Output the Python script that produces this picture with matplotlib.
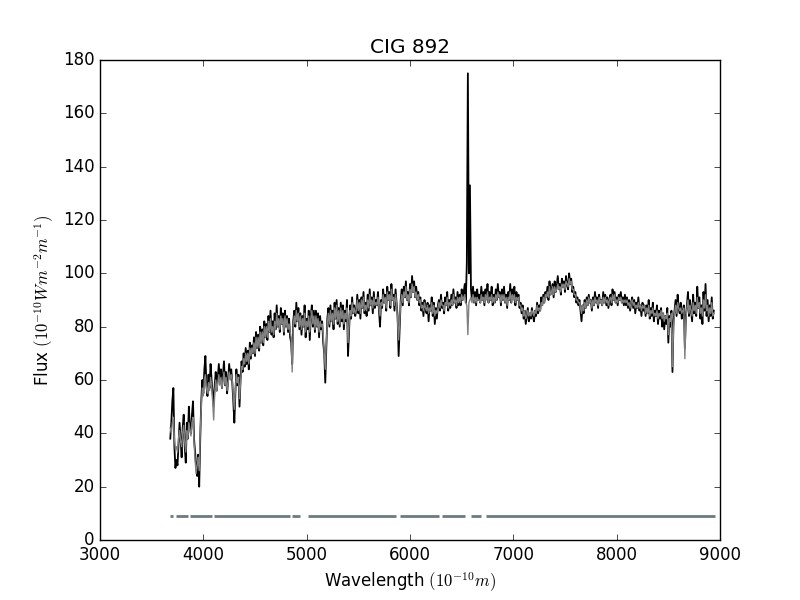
import numpy as np
import matplotlib
matplotlib.use("Agg")
import matplotlib.pyplot as plt

# wavelength grid of the spectrum (Angstrom), 10 A steps
wavelength = np.arange(3680, 8941, 10)

# observed flux (black), one row = 200 A
flux_obs = [
    38, 44, 52, 57, 35, 27, 30, 28, 36, 44, 38, 31, 42, 47, 35, 29, 44, 38, 50, 42,
    40, 47, 52, 38, 33, 28, 24, 32, 20, 38, 52, 60, 55, 64, 69, 58, 54, 62, 57, 66,
    60, 55, 50, 58, 63, 56, 61, 66, 59, 64, 57, 62, 67, 58, 63, 55, 60, 66, 61, 64,
    59, 52, 44, 55, 64, 58, 62, 50, 60, 67, 63, 70, 65, 72, 66, 71, 64, 74, 68, 73,
    70, 76, 69, 78, 72, 77, 71, 80, 74, 79, 73, 82, 76, 81, 75, 84, 78, 86, 77, 82,
    76, 85, 79, 88, 80, 84, 78, 87, 81, 85, 77, 86, 80, 84, 78, 83, 76, 74, 66, 82,
    86, 80, 89, 82, 87, 79, 85, 77, 84, 80, 88, 76, 83, 79, 86, 75, 84, 88, 80, 86,
    78, 86, 80, 85, 76, 84, 79, 82, 74, 70, 59, 72, 83, 87, 80, 88, 82, 86, 79, 89,
    83, 90, 81, 87, 80, 89, 82, 88, 79, 86, 82, 90, 69, 78, 88, 83, 91, 85, 88, 84,
    86, 92, 85, 90, 83, 91, 87, 93, 85, 89, 84, 92, 86, 94, 88, 91, 85, 93, 87, 90,
    88, 93, 86, 80, 90, 87, 94, 89, 92, 86, 95, 90, 93, 87, 96, 90, 92, 86, 94, 89,
    84, 69, 80, 90, 94, 88, 95, 91, 97, 90, 93, 88, 96, 91, 99, 93, 97, 91, 95, 90,
    93, 88, 91, 86, 89, 84, 90, 87, 85, 89, 82, 88, 86, 91, 84, 89, 81, 87, 83, 88,
    90, 86, 92, 87, 89, 85, 91, 88, 93, 86, 90, 87, 92, 88, 94, 89, 91, 87, 93, 88,
    92, 88, 94, 90, 93, 96, 89, 104, 175, 100, 133, 94, 90, 95, 89, 93, 88, 94, 90, 92,
    89, 95, 90, 93, 88, 94, 91, 96, 89, 93, 90, 95, 88, 92, 89, 94, 90, 96, 91, 93,
    88, 94, 90, 95, 89, 92, 87, 93, 90, 96, 89, 94, 91, 95, 88, 93, 90, 92, 87, 89,
    85, 88, 83, 86, 81, 84, 87, 82, 85, 83, 87, 84, 82, 86, 84, 89, 85, 88, 86, 91,
    88, 92, 89, 93, 91, 95, 90, 97, 92, 94, 96, 91, 97, 93, 95, 99, 94, 96, 92, 98,
    95, 97, 93, 99, 96, 94, 100, 96, 98, 93, 95, 91, 93, 89, 91, 88, 90, 86, 82, 88,
    85, 90, 87, 91, 88, 92, 89, 90, 86, 91, 88, 93, 89, 91, 87, 92, 89, 90, 88, 93,
    89, 92, 88, 91, 87, 90, 92, 88, 94, 90, 93, 89, 91, 88, 92, 90, 93, 89, 91, 88,
    92, 88, 91, 87, 90, 86, 89, 91, 87, 90, 85, 89, 87, 91, 86, 88, 84, 89, 86, 88,
    84, 88, 85, 90, 83, 87, 84, 89, 82, 86, 84, 88, 81, 86, 83, 87, 80, 85, 79, 84,
    81, 87, 74, 84, 80, 86, 63, 82, 86, 90, 84, 92, 87, 85, 89, 83, 86, 88, 72, 84,
    88, 93, 84, 90, 86, 82, 92, 85, 89, 84, 95, 87, 91, 83, 88, 81, 93, 86, 96, 84,
    90, 82, 88, 84, 91, 83, 86,
]

# synthetic fit (grey)
flux_fit = [
    42, 40, 44, 46, 38, 34, 35, 33, 38, 41, 37, 35, 40, 43, 37, 33, 41, 38, 44, 41,
    39, 44, 46, 37, 30, 25, 28, 31, 26, 40, 50, 57, 54, 60, 62, 57, 55, 59, 56, 61,
    58, 52, 45, 55, 60, 56, 59, 62, 58, 61, 57, 60, 63, 58, 61, 56, 59, 63, 60, 62,
    60, 54, 49, 56, 62, 59, 61, 53, 59, 65, 64, 68, 66, 70, 67, 70, 66, 72, 69, 72,
    70, 74, 70, 76, 72, 76, 72, 78, 74, 78, 74, 80, 76, 80, 76, 82, 78, 83, 78, 80,
    77, 82, 79, 85, 80, 83, 79, 84, 81, 83, 78, 84, 80, 83, 79, 81, 78, 76, 63, 80,
    84, 81, 86, 82, 85, 80, 84, 79, 83, 80, 85, 78, 82, 80, 84, 78, 83, 86, 81, 84,
    79, 84, 80, 83, 78, 82, 80, 81, 77, 70, 64, 74, 81, 85, 81, 86, 82, 85, 81, 87,
    83, 88, 82, 86, 81, 87, 83, 86, 81, 85, 83, 87, 74, 80, 86, 84, 89, 85, 87, 85,
    86, 90, 86, 89, 85, 90, 87, 91, 86, 88, 86, 90, 87, 92, 88, 90, 87, 91, 88, 89,
    88, 91, 87, 84, 89, 88, 92, 89, 91, 87, 93, 90, 92, 88, 94, 90, 91, 88, 92, 89,
    82, 75, 82, 89, 92, 89, 93, 91, 95, 90, 92, 89, 94, 91, 96, 93, 95, 91, 93, 90,
    92, 89, 90, 87, 88, 86, 89, 87, 86, 88, 85, 87, 86, 89, 85, 88, 84, 86, 85, 87,
    89, 87, 90, 88, 88, 86, 89, 88, 91, 87, 89, 88, 90, 88, 92, 89, 90, 88, 91, 89,
    91, 89, 92, 90, 91, 92, 89, 88, 77, 89, 90, 91, 89, 92, 89, 91, 89, 91, 90, 90,
    89, 92, 90, 91, 89, 92, 90, 93, 89, 91, 90, 92, 89, 91, 89, 92, 90, 93, 91, 92,
    89, 92, 90, 92, 89, 91, 88, 91, 90, 93, 89, 92, 90, 92, 89, 91, 90, 91, 88, 88,
    86, 87, 84, 86, 83, 84, 86, 84, 85, 84, 86, 85, 84, 86, 85, 88, 86, 87, 86, 89,
    88, 91, 89, 92, 91, 93, 91, 95, 92, 93, 95, 92, 95, 93, 94, 96, 94, 95, 93, 96,
    95, 96, 94, 97, 96, 95, 98, 96, 97, 94, 94, 92, 92, 90, 90, 89, 89, 87, 85, 88,
    86, 89, 87, 90, 88, 91, 89, 90, 87, 90, 88, 91, 89, 90, 88, 91, 89, 90, 88, 91,
    89, 91, 89, 90, 88, 90, 91, 89, 92, 90, 92, 89, 90, 89, 91, 90, 91, 89, 90, 89,
    90, 89, 90, 88, 89, 87, 89, 90, 88, 89, 87, 88, 87, 89, 87, 88, 86, 88, 87, 88,
    85, 87, 85, 88, 84, 86, 85, 87, 84, 85, 84, 86, 83, 85, 84, 86, 83, 85, 82, 84,
    83, 85, 77, 83, 82, 85, 65, 80, 85, 88, 85, 89, 87, 86, 87, 85, 86, 87, 68, 83,
    87, 90, 85, 88, 86, 84, 89, 86, 88, 85, 91, 87, 89, 85, 87, 84, 90, 87, 92, 86,
    88, 84, 87, 85, 89, 84, 85,
]

# unmasked wavelength ranges used in the fit
mask_start = [3676, 3736, 3870, 4106, 4855, 5013, 5900, 6311, 6593, 6737]
mask_end = [3711, 3852, 4088, 4837, 4939, 5868, 6276, 6529, 6691, 8950]
mask_level = 9

plt.style.use("classic")
plt.rcParams["mathtext.fontset"] = "cm"

fig, ax = plt.subplots(figsize=(8, 6), dpi=100)
ax.plot(wavelength, flux_obs, color="black", lw=1.3)
ax.plot(wavelength, flux_fit, color="0.5", lw=1.0)
ax.hlines([mask_level] * len(mask_start), mask_start, mask_end,
          color="#6b7b80", lw=2)

ax.set_xlim(3000, 9000)
ax.set_ylim(0, 180)
ax.set_title("CIG 892")
ax.set_xlabel(r"Wavelength $(10^{-10}m)$")
ax.set_ylabel(r"Flux $(10^{-10}Wm^{-2}m^{-1})$")

fig.savefig("out.png", dpi=100)
